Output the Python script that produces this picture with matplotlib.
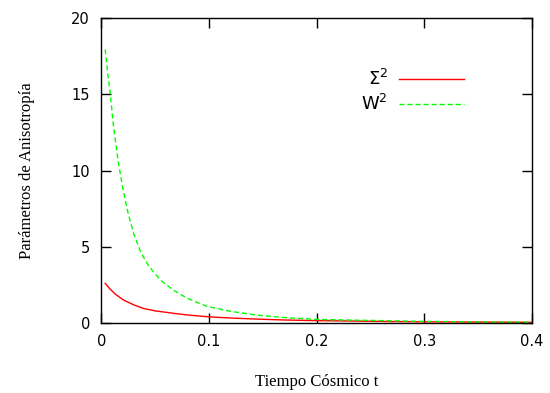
import matplotlib
matplotlib.use("Agg")
import matplotlib.pyplot as plt

# values
t_sigma = [0.0037, 0.008, 0.013, 0.0207, 0.03, 0.039, 0.05, 0.067, 0.08, 0.0996,
           0.12, 0.1445, 0.17, 0.2, 0.235, 0.268, 0.3, 0.34, 0.37, 0.4]
sigma2 = [2.6, 2.25, 1.9, 1.51, 1.2, 0.96, 0.8, 0.64, 0.53, 0.41,
          0.33, 0.26, 0.2, 0.16, 0.13, 0.1, 0.08, 0.07, 0.06, 0.05]

t_w = [0.0037, 0.006, 0.0084, 0.0114, 0.016, 0.0207, 0.025, 0.030, 0.037, 0.044,
       0.055, 0.067, 0.08, 0.098, 0.12, 0.1445, 0.17, 0.2, 0.235, 0.268, 0.3,
       0.34, 0.37, 0.4]
w2 = [17.95, 16.4, 15.06, 12.9, 10.5, 8.6, 7.2, 5.9, 4.6, 3.75,
      2.82, 2.16, 1.62, 1.1, 0.77, 0.52, 0.36, 0.24, 0.19, 0.15, 0.11,
      0.08, 0.06, 0.05]

x_ticks = [0, 0.1, 0.2, 0.3, 0.4]
x_labels = ["0", "0.1", "0.2", "0.3", "0.4"]
y_ticks = [0, 5, 10, 15, 20]

fig = plt.figure(figsize=(5.5, 3.93), dpi=100)
ax = fig.add_axes([0.184, 0.178, 0.783, 0.776])

ax.plot(t_sigma, sigma2, color="#ff0000", linewidth=1.0, label=r"$\Sigma^2$")
ax.plot(t_w, w2, color="#00ff00", linewidth=1.0, dashes=(3.6, 2.2), label=r"W$^2$")

ax.set_xlim(0, 0.4)
ax.set_ylim(0, 20)
ax.set_xticks(x_ticks)
ax.set_xticklabels(x_labels)
ax.set_yticks(y_ticks)
ax.tick_params(direction="in", length=7, width=1, top=True, right=True,
               labelsize=10.5, pad=8, colors="black")
for s in ax.spines.values():
    s.set_linewidth(1.0)

ax.set_xlabel("Tiempo Cósmico t", family="Liberation Serif", fontsize=12, labelpad=18)
ax.set_ylabel("Parámetros de Anisotropía", family="Liberation Serif", fontsize=12, labelpad=26)

leg = ax.legend(loc="upper right", bbox_to_anchor=(0.88, 0.887), frameon=False,
                fontsize=13, handlelength=3.6, markerfirst=False,
                labelspacing=0.3, handletextpad=0.6)

fig.savefig("out.png", dpi=100, facecolor="white")
